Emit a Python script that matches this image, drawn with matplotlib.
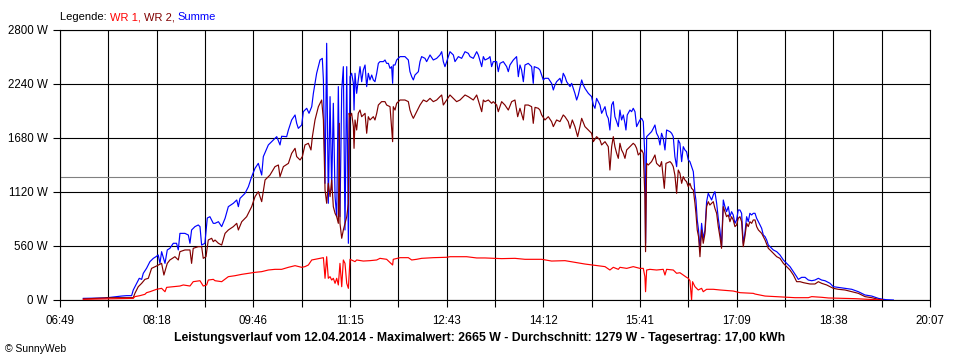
import matplotlib
matplotlib.use("Agg")
import matplotlib.pyplot as plt

plt.rcParams['font.family'] = ['Liberation Sans', 'DejaVu Sans']

# ---- data (time in minutes after midnight, power in W) ----
t_sum = [430.4, 450.2, 465.5, 470.1, 474.7, 476.2, 479.3, 481.7, 483.9, 485.4, 488.4, 491.5, 494.6, 497.0, 499.1,
         500.7, 502.2, 505.3, 507.4, 509.8, 512.9, 515.9, 517.5, 519.0, 523.6, 526.7, 528.2, 529.7, 532.8, 535.8,
         537.4, 538.9, 541.9, 544.1, 546.5, 549.6,
         551.2, 554.3, 557.3, 560.4, 563.4, 568.0, 571.1, 572.6, 574.1, 578.7, 581.8, 584.8, 587.9, 590.9, 594.0,
         595.5, 600.1, 604.7, 607.8, 610.8, 612.3, 616.9, 618.5, 621.5, 624.6, 626.1, 627.6, 630.7, 632.2, 635.3,
         637.4, 639.9, 641.4, 644.4, 647.5, 649.6, 650.6, 652.1, 653.6, 655.1, 656.7, 658.2, 659.7, 661.3, 662.8,
         664.3, 665.8, 667.4, 668.9, 670.4, 672.0, 673.5,
         675.0, 676.5, 678.1, 678.7, 679.6, 681.1, 682.6, 684.2, 685.7, 687.2, 688.8, 690.3, 691.8, 693.3, 694.9,
         696.4, 697.9, 699.5, 701.0, 702.5, 705.6, 707.1, 708.6, 710.2, 711.7, 713.2, 714.1, 714.7, 716.3, 717.8,
         720.9, 725.4, 728.5, 730.0, 731.6, 733.1, 734.6, 737.7, 739.2, 740.7, 743.8, 745.3, 748.4, 751.4, 754.5,
         757.5, 759.1, 760.6, 762.1, 763.7, 766.7, 769.8, 771.3, 774.4, 777.4, 780.5, 783.5, 785.1, 788.1, 791.2,
         792.7, 795.8, 797.3,
         798.8, 801.9, 803.4, 804.9, 806.4, 809.5, 811.0, 812.6, 815.6, 818.7, 820.2, 821.7, 824.8, 827.8, 829.4,
         830.9, 832.4, 834.0, 835.5, 838.5, 841.6, 843.1, 844.0, 847.7, 849.2, 850.8, 852.3, 853.8, 856.9, 859.9,
         861.5, 863.0, 864.5, 867.6, 869.1, 870.6, 872.2, 873.7, 876.8, 878.3, 879.8, 881.3, 882.9, 884.4, 887.5,
         889.0, 890.5, 893.6, 896.6, 898.2, 899.7, 901.2, 904.3, 905.8, 908.9, 910.4, 911.9, 913.4, 915.0, 916.5,
         918.0, 919.6, 921.1,
         922.6, 924.1, 925.7, 927.2, 928.1, 929.3, 931.8, 933.3, 934.8, 936.4, 937.9, 939.4, 940.9, 942.5, 944.0,
         945.5, 946.1, 947.1, 948.6, 951.6, 953.2, 954.7, 956.2, 957.8, 959.3, 960.8, 962.3, 963.9, 965.4, 968.5,
         970.0, 971.5, 973.0, 974.6, 976.1, 977.6, 979.2, 980.7, 982.2, 983.7, 985.3, 986.8, 988.3, 989.9, 991.4,
         992.3, 993.5, 994.7, 996.0, 997.5, 999.0, 1000.6, 1002.1, 1003.6, 1005.1, 1006.7, 1008.2, 1009.7, 1011.3,
         1012.8, 1014.3, 1015.8, 1017.4, 1018.9, 1020.4, 1022.0, 1023.5, 1025.0, 1026.5, 1028.1, 1029.6, 1031.1,
         1032.7, 1034.2, 1035.7, 1037.2, 1038.8, 1040.3, 1041.8, 1043.4, 1044.9,
         1046.5, 1048.0, 1049.6, 1051.1, 1052.6, 1054.1, 1055.7, 1057.2, 1058.7, 1060.3, 1063.3, 1066.4, 1069.4,
         1072.5, 1075.5, 1078.6, 1081.7, 1084.7, 1086.2, 1089.3, 1092.4, 1095.4, 1098.5, 1101.5, 1104.6, 1107.6,
         1110.7, 1115.3, 1118.3, 1122.9, 1129.0, 1135.2, 1141.3, 1147.4, 1153.5, 1159.6, 1164.2, 1167.3, 1173.4]
summe = [17, 21, 41, 45, 45, 104, 173, 225, 214, 277, 329, 398, 432, 449, 467,
         380, 501, 380, 519, 536, 588, 588, 519, 691, 691, 674, 588, 726, 761, 778,
         761, 570, 588, 850, 864, 795,
         795, 812, 761, 847, 968, 1003, 1037, 968, 1054, 1106, 1175, 1279, 1366, 1417, 1296,
         1487, 1608, 1659, 1694, 1608, 1698, 1694, 1763, 1867, 1919, 1832, 1780, 1815, 1953, 1988,
         1936, 2005, 2143, 2351, 2489, 2506, 2282, 1210, 2662, 1003, 2109, 1141, 2040, 1072, 864,
         2213, 864, 2178, 2420, 726, 2420, 588,
         2316, 2351, 2247, 1970, 2351, 2143, 2282, 2420, 2264, 2385, 2437, 2213, 2351, 2282, 2333,
         2282, 2264, 2351, 2454, 2472, 2472, 2489, 2454, 2454, 2403, 2420, 2247, 2437, 2437, 2489,
         2524, 2524, 2489, 2368, 2316, 2282, 2333, 2368, 2472, 2524, 2506, 2472, 2541, 2489, 2506,
         2541, 2575, 2472, 2420, 2472, 2575, 2541, 2472, 2524, 2506, 2575, 2558, 2524, 2506, 2575,
         2541, 2420, 2524,
         2489, 2506, 2524, 2420, 2472, 2472, 2368, 2454, 2472, 2420, 2368, 2437, 2489, 2524, 2316,
         2437, 2385, 2264, 2437, 2454, 2420, 2247, 2420, 2403, 2385, 2333, 2282, 2299, 2299, 2247,
         2178, 2230, 2264, 2299, 2247, 2351, 2316, 2264, 2213, 2247, 2195, 2143, 2074, 2126, 2282,
         2230, 2195, 2143, 2109, 2022, 1988, 2091, 2022, 1936, 2005, 1919, 1884, 1763, 2022, 2057,
         1901, 1850, 1798,
         1970, 1867, 1919, 1832, 1763, 1919, 1970, 1953, 1988, 1953, 1798, 1832, 1867, 1884, 1850,
         1487, 588, 1694, 1711, 1746, 1780, 1815, 1729, 1694, 1608, 1729, 1677, 1556, 1763, 1746,
         1729, 1694, 1487, 1383, 1659, 1625, 1435, 1590, 1556, 1538, 1452, 1435, 1383, 1331, 1106,
         1037, 830, 726, 536, 795, 640, 726, 1020, 1106, 1072, 1037, 1089, 1124, 1003,
         847, 726, 553, 1037, 968, 916, 968, 864, 916, 882, 795, 830, 933,
         933, 899, 588, 691, 864, 812, 899, 882, 899,
         899, 847, 812, 778, 743, 674, 657, 622, 570, 553, 519, 501, 467,
         415, 380, 346, 294, 242, 214, 235, 235, 207, 200, 207, 225, 207,
         200, 173, 138, 131, 121, 111, 86, 52, 41, 17, 7, 3, 0]

t_wr2 = [430.4, 453.3, 476.2, 477.7, 480.8, 483.9, 486.9, 490.0, 493.0, 497.6, 502.2, 504.3, 507.4, 509.8, 514.4,
         517.5, 519.0, 523.6, 528.2, 529.7, 531.2, 535.8, 538.9, 540.4, 542.9, 545.0, 548.1, 549.6,
         551.2, 554.3, 557.3, 560.4, 563.4, 568.0, 571.1, 572.6, 575.7, 580.2, 584.8, 587.9, 590.9, 594.0, 597.1,
         601.6, 606.2, 609.3, 610.8, 613.9, 618.5, 621.5, 624.6, 626.1, 629.2, 631.3, 633.7, 636.8, 639.2, 640.5,
         642.9, 646.0, 649.0, 650.6, 652.1, 653.6, 655.1, 656.7, 658.2, 659.7, 661.3, 662.8, 664.3, 665.2, 665.8,
         667.4, 668.9, 670.4, 672.0, 673.5, 674.2,
         675.0, 676.5, 678.1, 678.7, 679.6, 681.1, 682.6, 684.2, 685.7, 688.8, 690.3, 691.8, 693.3, 696.4, 697.9,
         699.5, 701.0, 704.0, 707.1, 708.6, 711.7, 714.1, 714.7, 716.3, 717.8, 720.9, 725.4, 728.5, 730.0, 731.6,
         733.1, 736.1, 739.2, 742.3, 745.3, 748.4, 751.4, 754.5, 757.5, 759.1, 760.6, 763.7, 766.7, 769.8, 772.8,
         775.9, 780.5, 783.5, 788.1, 791.2, 795.8, 797.3,
         798.8, 801.9, 804.9, 806.4, 809.5, 811.0, 814.1, 817.1, 820.2, 823.3, 826.3, 828.8, 830.9, 834.0, 835.5,
         838.5, 841.6, 843.1, 844.7, 847.7, 849.2, 850.8, 853.8, 856.9, 859.9, 861.5, 864.5, 867.6, 870.6, 872.2,
         875.2, 876.8, 878.9, 881.3, 883.8, 885.9, 887.5, 890.5, 893.6, 896.6, 898.2, 901.2, 904.3, 905.8, 908.9,
         911.9, 913.4, 915.0, 916.5, 918.0, 919.6, 921.1,
         922.6, 924.1, 925.7, 927.2, 928.8, 931.8, 934.8, 936.4, 937.9, 939.4, 940.9, 942.5, 944.0, 945.5, 946.1,
         947.1, 948.6, 951.6, 953.2, 954.7, 956.2, 957.8, 959.3, 960.8, 963.3, 964.8, 968.5, 970.0, 971.5, 973.0,
         974.6, 976.1, 977.6, 979.2, 980.7, 982.2, 983.7, 985.3, 986.8, 988.3, 989.9, 991.4, 992.3, 993.5, 994.7,
         996.0, 997.5, 999.0, 1000.6, 1002.1, 1003.6, 1005.1, 1006.7, 1008.2, 1009.7, 1011.3, 1012.8, 1014.3,
         1015.8, 1017.4, 1018.9, 1020.4, 1022.0, 1023.5, 1025.0, 1026.5, 1028.1, 1029.6, 1031.1, 1032.7, 1034.2,
         1035.7, 1037.2, 1038.8, 1040.3, 1041.8, 1043.4, 1044.9,
         1046.5, 1048.0, 1049.6, 1051.1, 1052.6, 1055.7, 1058.7, 1060.3, 1063.3, 1066.4, 1069.4, 1072.5, 1075.5,
         1078.6, 1081.7, 1084.7, 1087.8, 1090.8, 1093.9, 1096.9, 1101.5, 1104.6, 1107.6, 1112.2, 1118.3, 1122.9,
         1129.0, 1135.2, 1141.3, 1147.4, 1153.5, 1159.6, 1164.2]
wr2 = [10, 24, 24, 69, 138, 173, 214, 225, 328, 353, 380, 259, 380, 415, 449,
       415, 501, 519, 519, 380, 536, 553, 553, 432, 449, 622, 640, 605,
       622, 588, 570, 691, 726, 761, 795, 726, 812, 864, 968, 1072, 1124, 1020, 1245,
       1296, 1383, 1400, 1279, 1383, 1417, 1521, 1573, 1487, 1452, 1487, 1608, 1625, 1556, 1694,
       1867, 2005, 2074, 1867, 1141, 1003, 1210, 1072, 1245, 968, 899, 864, 795, 1832, 795,
       640, 726, 795, 864, 1003, 1936,
       1901, 1936, 1798, 1573, 1867, 1763, 1936, 1970, 1901, 1936, 1729, 1901, 1867, 1901, 1867,
       1936, 2022, 2057, 2057, 2022, 2005, 1642, 2005, 1970, 2040, 2074, 2074, 2057, 1970, 1919,
       1884, 1953, 2022, 2074, 2057, 2091, 2057, 2074, 2109, 2126, 2022, 2074, 2126, 2091, 2057,
       2074, 2126, 2109, 2074, 2126, 1953, 2074,
       2057, 2074, 2040, 2057, 2022, 1953, 2057, 2022, 1970, 2057, 2074, 1901, 1988, 1867, 2022,
       2022, 2005, 1832, 1998, 1988, 1970, 1919, 1867, 1901, 1850, 1798, 1867, 1850, 1919, 1901,
       1850, 1780, 1867, 1798, 1694, 1798, 1884, 1798, 1763, 1729, 1642, 1694, 1659, 1608, 1642,
       1590, 1348, 1590, 1694, 1590, 1521, 1469,
       1625, 1556, 1521, 1469, 1556, 1590, 1625, 1608, 1573, 1504, 1521, 1556, 1521, 1072, 501,
       1417, 1400, 1435, 1469, 1504, 1417, 1400, 1383, 1435, 1158, 1417, 1435, 1417, 1383, 1296,
       1106, 1348, 1314, 1210, 1279, 1245, 1227, 1175, 1210, 1158, 1141, 1003, 899, 726, 657,
       449, 726, 588, 691, 968, 1020, 985, 1003, 1020, 951, 899, 761, 657,
       536, 968, 916, 864, 882, 812, 864, 830, 761, 778, 847, 864, 812,
       553, 657, 795, 761, 812, 795, 830,
       830, 761, 726, 709, 691, 622, 536, 519, 484, 449, 432, 380, 346,
       311, 259, 190, 190, 180, 173, 166, 166, 190, 173, 156, 121, 111,
       104, 86, 69, 35, 24, 7, 0]

t_wr1 = [430.4, 476.2, 477.7, 482.3, 486.9, 488.4, 491.5, 497.6, 502.2, 505.3, 506.8, 512.9, 519.0, 522.1, 528.2,
         531.2, 537.4, 540.4, 543.5, 545.0, 549.6,
         551.2, 557.3, 563.4, 569.5, 575.7, 581.8, 587.9, 594.0, 600.1, 606.2, 612.3, 618.5, 624.6, 630.7, 633.7,
         636.8, 639.9, 642.9, 647.5, 650.6, 652.1, 653.6, 655.1, 656.7, 658.2, 659.7, 661.3, 662.8, 664.3, 665.8,
         667.4, 668.9, 670.4, 672.0, 673.5,
         675.0, 679.6, 681.1, 687.2, 693.3, 699.5, 702.5, 708.6, 714.1, 714.7, 720.9, 728.5, 731.6, 736.1, 740.7,
         751.4, 763.7, 766.7, 782.0, 791.2, 797.3,
         798.8, 814.1, 826.3, 835.5, 850.8, 859.9, 872.2, 881.3, 890.5, 899.7, 908.9, 913.4, 916.5, 921.1,
         922.6, 928.8, 934.8, 940.9, 944.0, 945.5, 946.1, 947.1, 950.1, 956.2, 962.3, 963.9, 965.4, 971.5, 974.6,
         977.6, 980.7, 983.7, 985.3, 986.8, 988.3, 989.2, 991.4, 994.4, 997.5, 999.0, 1002.1, 1008.2, 1014.3,
         1026.5, 1032.7, 1044.9,
         1046.5, 1055.7, 1064.8, 1074.0, 1083.2, 1095.4, 1098.5, 1107.6, 1113.8, 1126.0, 1138.2, 1150.4, 1162.7]
wr1 = [7, 17, 35, 45, 59, 76, 86, 111, 121, 86, 131, 138, 145, 156, 145,
       190, 200, 145, 156, 207, 214,
       200, 190, 242, 252, 266, 277, 287, 294, 311, 318, 318, 339, 356, 339, 346,
       363, 415, 422, 432, 439, 225, 449, 225, 242, 207, 225, 173, 225, 156, 380,
       138, 415, 380, 173, 121,
       422, 398, 415, 404, 408, 415, 432, 422, 363, 422, 439, 439, 415, 422, 432,
       439, 443, 449, 449, 436, 436,
       436, 429, 432, 422, 422, 404, 408, 391, 373, 360, 346, 311, 339, 318,
       339, 328, 346, 328, 328, 242, 86, 311, 318, 311, 318, 259, 318, 311, 277,
       283, 259, 235, 225, 200, 0, 190, 138, 104, 121, 86, 111, 111, 104,
       93, 76, 69,
       62, 41, 35, 28, 24, 24, 35, 28, 21, 17, 14, 7, 0]

average = 1279
y_ticks = [0, 560, 1120, 1680, 2240, 2800]
x_start, x_end = 409, 1207
x_labels = ['06:49', '08:18', '09:46', '11:15', '12:43', '14:12', '15:41', '17:09', '18:38', '20:07']
title = ("Leistungsverlauf vom 12.04.2014 - Maximalwert: 2665 W - "
         "Durchschnitt: 1279 W - Tagesertrag: 17,00 kWh")

# ---- figure ----
fig = plt.figure(figsize=(9.6, 3.6), dpi=100)
fig.patch.set_facecolor('white')
ax = fig.add_axes([60 / 960, 60 / 360, 870 / 960, 270 / 360])

n_grid = 2 * (len(x_labels) - 1)
grid_x = [x_start + i * (x_end - x_start) / n_grid for i in range(n_grid + 1)]
grid_lab = [x_labels[i // 2] if i % 2 == 0 else '' for i in range(n_grid + 1)]

for gx in grid_x:
    ax.axvline(gx, color='black', lw=0.8, zorder=1)
for gy in y_ticks:
    ax.axhline(gy, color='black', lw=0.8, zorder=1)
ax.axhline(average, color='#808080', lw=0.8, zorder=1)

ax.plot(t_sum, summe, color='#0000ff', lw=0.85, zorder=3)
ax.plot(t_wr2, wr2, color='#800000', lw=0.85, zorder=4)
ax.plot(t_wr1, wr1, color='#ff0000', lw=0.85, zorder=5)

ax.set_xlim(x_start, x_end)
ax.set_ylim(0, 2800)
ax.set_xticks(grid_x)
ax.set_xticklabels(grid_lab)
ax.set_yticks(y_ticks)
ax.set_yticklabels([f"{v} W" for v in y_ticks])
ax.tick_params(axis='both', length=5, width=0.8, color='black', labelsize=8.3, pad=4)
ax.tick_params(axis='x', pad=6)
for s in ax.spines.values():
    s.set_color('black')
    s.set_linewidth(0.8)

# legend text
r = fig.canvas.get_renderer()
x0 = 60 / 960
parts = [("Legende: ", 'black'), ("WR 1, ", '#ff0000'), ("WR 2, ", '#800000'), ("Summe", '#0000ff')]
for txt, col in parts:
    t = fig.text(x0, 1 - 17 / 360, txt, fontsize=8, va='center', ha='left', color=col)
    bb = t.get_window_extent(renderer=r)
    x0 += bb.width / fig.bbox.width

fig.text(480 / 960, 1 - 338 / 360, title, fontsize=8.8, fontweight='bold', ha='center', va='center')
fig.text(5 / 960, 1 - 349 / 360, "\u00a9 SunnyWeb", fontsize=7.5, ha='left', va='center')

fig.savefig('out.png', dpi=100, facecolor='white')
